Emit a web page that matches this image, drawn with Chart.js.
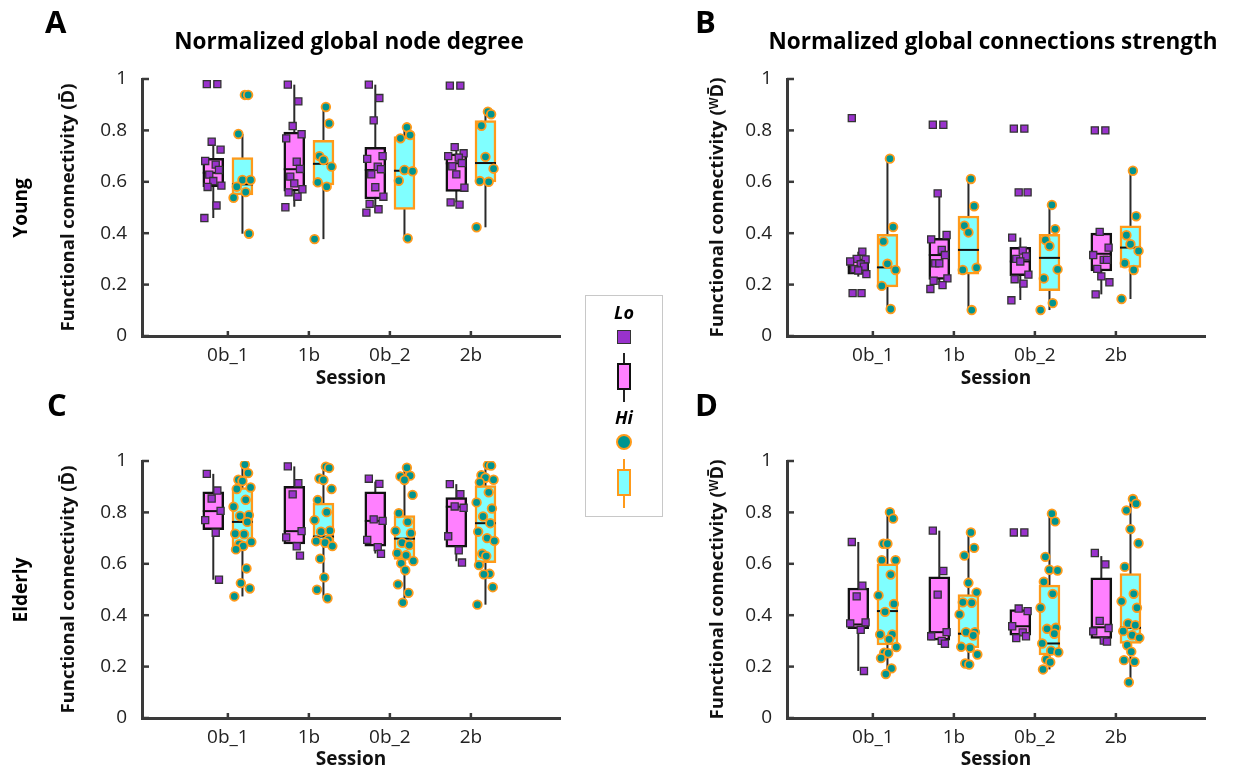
<!DOCTYPE html>
<html>
<head>
<meta charset="utf-8">
<script src="https://cdn.jsdelivr.net/npm/chart.js@4.4.1/dist/chart.umd.min.js"></script>
<style>
body{margin:0;background:#fff;font-family:"Open Sans",sans-serif;}
#wrap{position:relative;width:1234px;height:771px;overflow:hidden;background:#fff;}
canvas{position:absolute;}
.lbl{position:absolute;font-weight:bold;color:#000;white-space:nowrap;}
.letter{font-size:31px;line-height:32px;}
.title{font-size:22.5px;line-height:28px;transform:translateX(-50%);}
.row{font-size:19px;line-height:22px;transform:translate(-50%,-50%) rotate(-90deg);}
#legend{position:absolute;left:585px;top:295px;width:78px;height:222px;border:1px solid #c8c8c8;box-sizing:border-box;}
#legend div{position:absolute;box-sizing:border-box;}
.lgtxt{font-weight:bold;font-style:italic;font-size:18px;line-height:20px;width:76px;text-align:center;left:0;}
</style>
</head>
<body>
<div id="wrap">
  <canvas id="cA" width="617" height="390" style="left:0;top:0"></canvas>
  <canvas id="cB" width="617" height="390" style="left:617px;top:0"></canvas>
  <canvas id="cC" width="617" height="390" style="left:0;top:381px"></canvas>
  <canvas id="cD" width="617" height="390" style="left:617px;top:381px"></canvas>

  <div class="lbl letter" style="left:45px;top:5px">A</div>
  <div class="lbl letter" style="left:695px;top:5px">B</div>
  <div class="lbl letter" style="left:47px;top:388px">C</div>
  <div class="lbl letter" style="left:695px;top:388px">D</div>
  <div class="lbl title" style="left:349px;top:27px">Normalized global node degree</div>
  <div class="lbl title" style="left:993px;top:27px">Normalized global connections strength</div>
  <div class="lbl row" style="left:20px;top:208px">Young</div>
  <div class="lbl row" style="left:20px;top:590px">Elderly</div>

  <div id="legend">
    <div class="lgtxt" style="top:6px">Lo</div>
    <div style="left:31px;top:34px;width:14px;height:14px;background:#9932cc;border:1.5px solid #333"></div>
    <div style="left:37px;top:57px;width:2px;height:49px;background:#222"></div>
    <div style="left:31px;top:67px;width:14px;height:27px;background:#ff80ff;border:2px solid #111"></div>
    <div class="lgtxt" style="top:111px">Hi</div>
    <div style="left:30px;top:138px;width:16px;height:16px;border-radius:50%;background:#009490;border:2.5px solid #ff9a1a"></div>
    <div style="left:37px;top:163px;width:2px;height:49px;background:#ff9a1a"></div>
    <div style="left:31px;top:173px;width:14px;height:27px;background:#80ffff;border:2px solid #ff9a1a"></div>
  </div>
</div>
<script>
// sessions on the x axis
const sessions = ["0b_1", "1b", "0b_2", "2b"];

// ---- A: node degree, young ----
const loPtsA = [
  [0.98, 0.98, 0.756, 0.725, 0.681, 0.667, 0.646, 0.628, 0.603, 0.585, 0.58, 0.508, 0.459],
  [0.978, 0.913, 0.817, 0.785, 0.769, 0.678, 0.65, 0.62, 0.594, 0.571, 0.559, 0.542, 0.501],
  [0.978, 0.926, 0.839, 0.70, 0.689, 0.659, 0.649, 0.629, 0.579, 0.542, 0.514, 0.493, 0.48],
  [0.974, 0.974, 0.735, 0.711, 0.70, 0.694, 0.673, 0.66, 0.629, 0.577, 0.52, 0.511]
];
const hiPtsA = [
  [0.938, 0.938, 0.786, 0.607, 0.607, 0.581, 0.56, 0.538, 0.398],
  [0.891, 0.827, 0.70, 0.685, 0.659, 0.598, 0.581, 0.377],
  [0.812, 0.782, 0.769, 0.646, 0.641, 0.604, 0.38],
  [0.873, 0.863, 0.818, 0.697, 0.651, 0.603, 0.60, 0.423]
];
// [low whisker, q1, median, q3, high whisker]
const loBoxA = [
  [0.459, 0.581, 0.635, 0.691, 0.756],
  [0.503, 0.564, 0.649, 0.793, 0.978],
  [0.48, 0.533, 0.646, 0.734, 0.978],
  [0.52, 0.563, 0.672, 0.709, 0.735]
];
const hiBoxA = [
  [0.398, 0.549, 0.59, 0.694, 0.786],
  [0.377, 0.588, 0.67, 0.761, 0.891],
  [0.38, 0.493, 0.643, 0.776, 0.812],
  [0.423, 0.60, 0.673, 0.838, 0.873]
];

// ---- B: connection strength, young ----
const loPtsB = [
  [0.848, 0.328, 0.30, 0.298, 0.29, 0.279, 0.27, 0.26, 0.255, 0.241, 0.167, 0.167],
  [0.822, 0.822, 0.555, 0.393, 0.376, 0.335, 0.315, 0.283, 0.283, 0.224, 0.215, 0.198, 0.183],
  [0.807, 0.807, 0.559, 0.559, 0.383, 0.332, 0.31, 0.30, 0.29, 0.239, 0.221, 0.204, 0.139],
  [0.80, 0.80, 0.405, 0.344, 0.315, 0.296, 0.296, 0.261, 0.232, 0.209, 0.162]
];
const hiPtsB = [
  [0.69, 0.424, 0.368, 0.281, 0.257, 0.195, 0.105],
  [0.611, 0.505, 0.429, 0.403, 0.266, 0.257, 0.101],
  [0.51, 0.416, 0.374, 0.35, 0.259, 0.224, 0.128, 0.101],
  [0.643, 0.466, 0.392, 0.357, 0.331, 0.283, 0.257, 0.144]
];
const loBoxB = [
  [0.231, 0.241, 0.27, 0.30, 0.328],
  [0.198, 0.22, 0.315, 0.38, 0.555],
  [0.14, 0.235, 0.29, 0.345, 0.383],
  [0.162, 0.253, 0.32, 0.40, 0.41]
];
const hiBoxB = [
  [0.105, 0.191, 0.267, 0.396, 0.69],
  [0.101, 0.241, 0.335, 0.467, 0.611],
  [0.101, 0.176, 0.304, 0.396, 0.51],
  [0.144, 0.267, 0.344, 0.429, 0.643]
];

// ---- C: node degree, elderly ----
const loPtsC = [
  [0.95, 0.885, 0.854, 0.806, 0.77, 0.721, 0.538],
  [0.979, 0.914, 0.87, 0.727, 0.703, 0.668, 0.632],
  [0.931, 0.911, 0.773, 0.767, 0.693, 0.665, 0.639],
  [0.91, 0.871, 0.823, 0.818, 0.707, 0.652, 0.605]
];
const hiPtsC = [
  [0.986, 0.953, 0.927, 0.922, 0.897, 0.891, 0.849, 0.822, 0.789, 0.786, 0.763, 0.717, 0.715, 0.685, 0.676, 0.669, 0.656, 0.582, 0.525, 0.504, 0.473],
  [0.978, 0.973, 0.932, 0.926, 0.891, 0.848, 0.801, 0.77, 0.729, 0.725, 0.693, 0.688, 0.682, 0.669, 0.62, 0.547, 0.499, 0.466],
  [0.974, 0.943, 0.94, 0.926, 0.868, 0.797, 0.763, 0.728, 0.719, 0.682, 0.673, 0.641, 0.633, 0.611, 0.602, 0.575, 0.52, 0.487, 0.449],
  [0.984, 0.982, 0.945, 0.935, 0.927, 0.917, 0.878, 0.839, 0.815, 0.784, 0.758, 0.725, 0.70, 0.689, 0.639, 0.63, 0.595, 0.561, 0.559, 0.509, 0.441]
];
const loBoxC = [
  [0.538, 0.733, 0.805, 0.88, 0.95],
  [0.66, 0.677, 0.727, 0.901, 0.979],
  [0.64, 0.669, 0.767, 0.88, 0.92],
  [0.61, 0.665, 0.822, 0.858, 0.91]
];
const hiBoxC = [
  [0.473, 0.669, 0.763, 0.897, 0.986],
  [0.466, 0.68, 0.706, 0.836, 0.978],
  [0.449, 0.617, 0.698, 0.788, 0.974],
  [0.441, 0.604, 0.758, 0.904, 0.984]
];

// ---- D: connection strength, elderly ----
const loPtsD = [
  [0.685, 0.515, 0.473, 0.372, 0.368, 0.343, 0.183],
  [0.729, 0.572, 0.48, 0.334, 0.318, 0.30, 0.289],
  [0.722, 0.722, 0.426, 0.416, 0.357, 0.333, 0.318, 0.311],
  [0.642, 0.598, 0.378, 0.35, 0.337, 0.301, 0.297]
];
const hiPtsD = [
  [0.801, 0.776, 0.678, 0.678, 0.614, 0.614, 0.558, 0.477, 0.444, 0.413, 0.325, 0.325, 0.306, 0.276, 0.254, 0.252, 0.233, 0.193, 0.171],
  [0.722, 0.662, 0.632, 0.526, 0.489, 0.45, 0.448, 0.403, 0.334, 0.334, 0.321, 0.277, 0.273, 0.247, 0.212, 0.208],
  [0.795, 0.765, 0.627, 0.577, 0.574, 0.53, 0.483, 0.429, 0.351, 0.347, 0.328, 0.29, 0.262, 0.256, 0.228, 0.217, 0.189],
  [0.852, 0.834, 0.808, 0.735, 0.68, 0.588, 0.483, 0.454, 0.429, 0.368, 0.361, 0.338, 0.322, 0.312, 0.283, 0.258, 0.225, 0.219, 0.139]
];
const loBoxD = [
  [0.183, 0.348, 0.364, 0.506, 0.685],
  [0.289, 0.303, 0.334, 0.549, 0.729],
  [0.322, 0.322, 0.357, 0.422, 0.422],
  [0.31, 0.31, 0.353, 0.545, 0.63]
];
const hiBoxD = [
  [0.171, 0.284, 0.416, 0.60, 0.801],
  [0.208, 0.273, 0.328, 0.48, 0.722],
  [0.189, 0.245, 0.29, 0.517, 0.795],
  [0.139, 0.29, 0.351, 0.562, 0.852]
];

const OFF = 0.18;      // Lo / Hi shift from the session tick
const BOXW = 21;       // box width px
const JIT = [-0.08, 0.05, -0.02, 0.09, -0.1, 0.03, 0.07, -0.05, 0.0, 0.1, -0.07, 0.04, -0.11, 0.08, -0.03, 0.06, -0.09, 0.02, 0.11, -0.04, 0.01];

Chart.defaults.font.family = '"Open Sans", sans-serif';
Chart.defaults.color = "#222";

const boxPlugin = {
  id: "boxes",
  beforeDatasetsDraw(chart) {
    const { ctx } = chart;
    const x = chart.scales.x, y = chart.scales.y;
    ctx.save();
    ctx.lineWidth = 2;
    ctx.strokeStyle = "#2a2a2a";
    chart.data.datasets.forEach(ds => {
      if (!ds.boxStats) return;
      ds.boxStats.forEach((s, i) => {
        const px = x.getPixelForValue(i + 1 + ds.boxOff);
        ctx.beginPath();
        ctx.moveTo(px, y.getPixelForValue(s[0]));
        ctx.lineTo(px, y.getPixelForValue(s[4]));
        ctx.stroke();
      });
    });
    ctx.restore();
  },
  afterDatasetDraw(chart, args) {
    const ds = chart.data.datasets[args.index];
    if (!ds.boxStats) return;
    const { ctx } = chart;
    const x = chart.scales.x, y = chart.scales.y;
    ctx.save();
    ctx.lineWidth = 2;
    ctx.strokeStyle = "#111";
    ds.boxStats.forEach((s, i) => {
      const px = x.getPixelForValue(i + 1 + ds.boxOff);
      const py = y.getPixelForValue(s[2]);
      ctx.beginPath();
      ctx.moveTo(px - BOXW / 2, py);
      ctx.lineTo(px + BOXW / 2, py);
      ctx.stroke();
    });
    ctx.restore();
  },
  afterDraw(chart) {
    // small inward ticks
    const { ctx, chartArea } = chart;
    const x = chart.scales.x, y = chart.scales.y;
    ctx.save();
    ctx.strokeStyle = "#3a3a3a";
    ctx.lineWidth = 2.5;
    y.ticks.forEach(t => {
      const py = y.getPixelForValue(t.value);
      ctx.beginPath();
      ctx.moveTo(chartArea.left, py);
      ctx.lineTo(chartArea.left + 7, py);
      ctx.stroke();
    });
    x.ticks.forEach(t => {
      const px = x.getPixelForValue(t.value);
      ctx.beginPath();
      ctx.moveTo(px, chartArea.bottom);
      ctx.lineTo(px, chartArea.bottom - 5);
      ctx.stroke();
    });
    ctx.restore();
  }
};

function makePanel(id, loPts, hiPts, loBox, hiBox, yTitle, g) {
  const loPoints = [];
  loPts.forEach((arr, i) => arr.forEach((v, j) => loPoints.push({ x: i + 1 - OFF + JIT[j % JIT.length], y: v })));
  const hiPoints = [];
  hiPts.forEach((arr, i) => arr.forEach((v, j) => hiPoints.push({ x: i + 1 + OFF + JIT[(j + 5) % JIT.length], y: v })));

  return new Chart(document.getElementById(id).getContext("2d"), {
    type: "scatter",
    data: {
      datasets: [
        {
          type: "scatter",
          data: loPoints,
          pointStyle: "rect",
          pointRadius: 5,
          backgroundColor: "#9932cc",
          borderColor: "#333",
          borderWidth: 1.3,
          order: 0
        },
        {
          type: "scatter",
          data: hiPoints,
          pointStyle: "circle",
          pointRadius: 4.3,
          backgroundColor: "#009490",
          borderColor: "#ff9a1a",
          borderWidth: 1.8,
          order: 0
        },
        {
          type: "bar",
          data: loBox.map((s, i) => ({ x: i + 1 - OFF, y: [s[1], s[3]] })),
          backgroundColor: "#ff80ff",
          borderColor: "#111",
          borderWidth: 2.5,
          borderSkipped: false,
          barThickness: BOXW,
          grouped: false,
          order: 2,
          boxStats: loBox,
          boxOff: -OFF
        },
        {
          type: "bar",
          data: hiBox.map((s, i) => ({ x: i + 1 + OFF, y: [s[1], s[3]] })),
          backgroundColor: "#80ffff",
          borderColor: "#ff9a1a",
          borderWidth: 2.5,
          borderSkipped: false,
          barThickness: BOXW,
          grouped: false,
          order: 2,
          boxStats: hiBox,
          boxOff: OFF
        }
      ]
    },
    options: {
      responsive: false,
      devicePixelRatio: 1,
      animation: false,
      layout: { padding: { left: g.padL, top: g.top, right: g.padR, bottom: g.padB } },
      plugins: { legend: { display: false }, tooltip: { enabled: false } },
      scales: {
        x: {
          type: "linear",
          offset: false,
          min: -0.06,
          max: 5.1,
          afterBuildTicks(s) { s.ticks = [1, 2, 3, 4].map(v => ({ value: v })); },
          ticks: {
            callback: v => sessions[v - 1],
            padding: 8,
            autoSkip: false,
            maxRotation: 0,
            font: { size: 19 }
          },
          grid: { display: false, drawTicks: false, offset: false },
          border: { color: "#3a3a3a", width: 3 },
          title: { display: true, text: "Session", font: { size: 19, weight: "bold" }, color: "#111", padding: { top: 0, bottom: 0 } },
          afterFit(s) { s.height = g.xH; }
        },
        y: {
          min: 0,
          max: 1,
          ticks: { stepSize: 0.2, padding: 15, font: { size: 19 }, callback: v => String(+v.toFixed(1)) },
          grid: { display: false, drawTicks: false },
          border: { color: "#3a3a3a", width: 3 },
          title: { display: true, text: yTitle, font: { size: 18.5, weight: "bold" }, color: "#111", padding: { top: 2, bottom: 2 } },
          afterFit(s) { s.width = g.yW; }
        }
      }
    },
    plugins: [boxPlugin]
  });
}

const titleD = "Functional connectivity (D\u0304)";
const titleW = "Functional connectivity (\u1D42D\u0304)";

makePanel("cA", loPtsA, hiPtsA, loBoxA, hiBoxA, titleD, { padL: 56, yW: 86, top: 79, padR: 57, padB: 0, xH: 54 });
makePanel("cB", loPtsB, hiPtsB, loBoxB, hiBoxB, titleW, { padL: 88, yW: 82, top: 79, padR: 29, padB: 0, xH: 54 });
makePanel("cC", loPtsC, hiPtsC, loBoxC, hiBoxC, titleD, { padL: 56, yW: 86, top: 80, padR: 57, padB: 0, xH: 53 });
makePanel("cD", loPtsD, hiPtsD, loBoxD, hiBoxD, titleW, { padL: 88, yW: 82, top: 80, padR: 29, padB: 0, xH: 53 });
</script>
</body>
</html>
